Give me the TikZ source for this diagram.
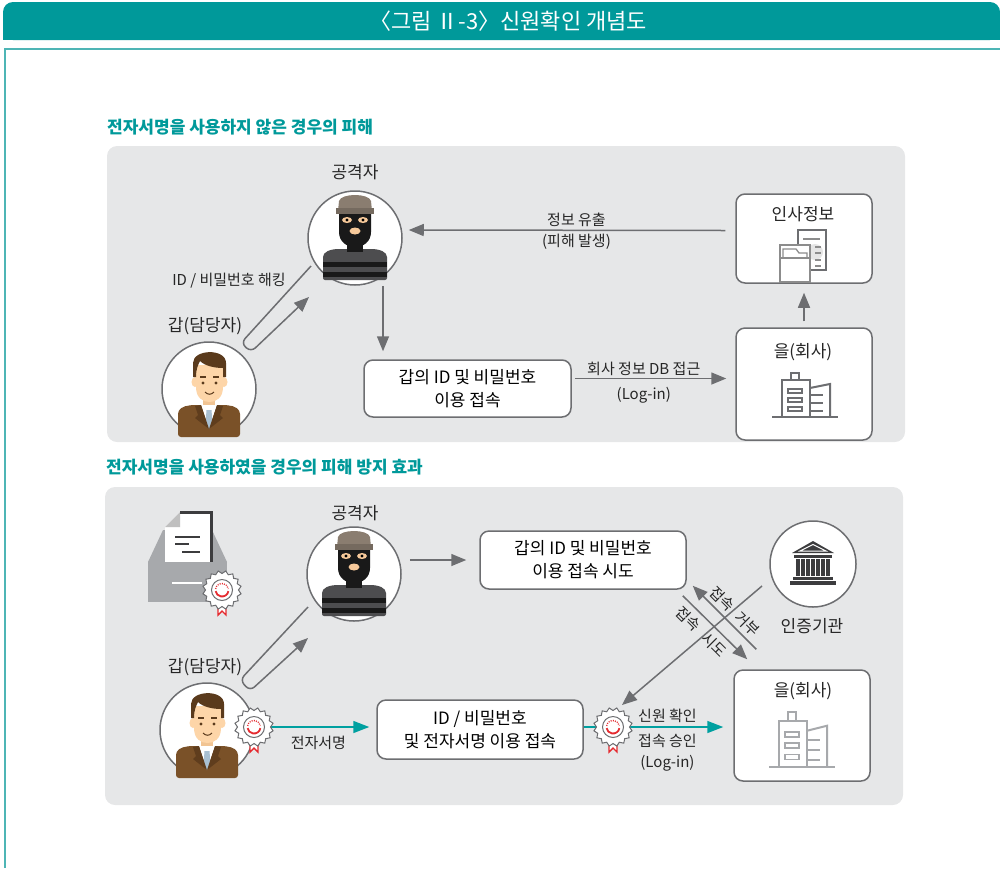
\documentclass[tikz,border=0pt]{standalone}
\usepackage{fontspec}
\setmainfont{Noto Sans CJK KR}
\usetikzlibrary{arrows.meta,calc,shapes.geometric}

\definecolor{teal1}{HTML}{00999A}
\definecolor{teal2}{HTML}{00A0A0}
\definecolor{tealline}{HTML}{4DB5B5}
\definecolor{panel}{HTML}{E6E7E8}
\definecolor{arrgray}{HTML}{6D6E71}
\definecolor{darkgray1}{HTML}{3C3C3E}
\definecolor{hatc}{HTML}{8A7D70}
\definecolor{bodyc}{HTML}{4D4D4F}
\definecolor{peach}{HTML}{F7C99A}
\definecolor{skin}{HTML}{FDD5A8}
\definecolor{hair}{HTML}{5A3A1C}
\definecolor{suit}{HTML}{7A5128}
\definecolor{lapel}{HTML}{5F3D1D}
\definecolor{tie}{HTML}{A9C0D2}
\definecolor{sealred}{HTML}{E52A2F}
\definecolor{tray}{HTML}{A7A9AC}

\tikzset{
  circ/.style={circle, draw=arrgray, line width=1.5pt, fill=white, minimum size=94pt, inner sep=0pt},
  roundbox/.style={rectangle, rounded corners=9pt, draw=arrgray, line width=1.5pt, fill=white, align=center, inner sep=0pt, font=\fontsize{17}{23}\selectfont},
  arr/.style={draw=arrgray, line width=1.5pt, -{Triangle[length=15pt,width=12pt]}},
  tarr/.style={draw=teal2, line width=1.5pt, -{Triangle[length=16pt,width=12pt]}},
  lbl/.style={font=\fontsize{17}{20}\selectfont, text=black!85},
  note/.style={font=\fontsize{15}{21}\selectfont, text=black!85, align=center},
  slant/.style={note, rotate=-45, inner sep=0pt},
  head/.style={font=\fontsize{17}{20}\selectfont\bfseries, text=teal1, anchor=west, inner sep=0pt},
}

% masked thief, drawn round the origin
\newcommand{\thief}{%
  \fill[bodyc, rounded corners=2pt] (-32,42) -- (-32,21) .. controls (-32,14) and (-25,11) .. (-14,11) -- (14,11) .. controls (25,11) and (32,14) .. (32,21) -- (32,42) -- cycle;
  \fill[black!90] (-32,24) rectangle (32,29);
  \fill[black!90] (-32,34) rectangle (32,39);
  \fill[black!90] (-8,2) rectangle (8,14);
  \fill[black!90] (-16,-26) -- (16,-26) -- (16,-6) .. controls (16,4) and (8,9) .. (0,9) .. controls (-8,9) and (-16,4) .. (-16,-6) -- cycle;
  \fill[peach] (-8,-18) ellipse (5 and 3);
  \fill[peach] (8,-18) ellipse (5 and 3);
  \fill[black] (-8,-18) circle (1.6);
  \fill[black] (8,-18) circle (1.6);
  \fill[peach] (0,-7) ellipse (5.5 and 3.5);
  \fill[hatc] (-17,-27) -- (-16,-37) .. controls (-14,-45) and (14,-45) .. (16,-37) -- (17,-27) -- cycle;
  \fill[hatc!85!black] (-19,-30) rectangle (19,-24);
}

% office worker, drawn round the origin
\newcommand{\clerk}{%
  \fill[skin!80!brown] (-6,4) rectangle (6,18);
  \fill[suit, rounded corners=3pt] (-31,48) -- (-31,28) .. controls (-31,20) and (-26,17) .. (-16,16) -- (16,16) .. controls (26,17) and (31,20) .. (31,28) -- (31,48) -- cycle;
  \fill[white] (-8,16) -- (8,16) -- (0,40) -- cycle;
  \fill[tie] (-2.5,21) -- (2.5,21) -- (3.5,35) -- (0,40) -- (-3.5,35) -- cycle;
  \fill[lapel] (-8,16) -- (-14,17) -- (-11,26) -- (-14,29) -- (0,40) -- cycle;
  \fill[lapel] (8,16) -- (14,17) -- (11,26) -- (14,29) -- (0,40) -- cycle;
  \fill[skin] (-14,-7) ellipse (3.5 and 5);
  \fill[skin] (15,-7) ellipse (3.5 and 5);
  \fill[skin] (-13,-24) -- (14,-24) -- (14,-2) .. controls (14,9) and (7,13) .. (0.5,13) .. controls (-6,13) and (-13,9) .. (-13,-2) -- cycle;
  \fill[hair] (-16,-12) -- (-16,-26) .. controls (-16,-40) and (17,-41) .. (17,-26) -- (17,-12) -- (14,-12) -- (14,-21) .. controls (6,-21) and (-4,-23) .. (-9,-28) .. controls (-11,-24) and (-13,-20) .. (-13,-12) -- cycle;
  \draw[hair, line width=1.5pt] (-9,-12) -- (-3,-12) (4,-12) -- (10,-12);
  \fill[hair] (-6,-6) circle (1.6) (7,-6) circle (1.6);
  \draw[hair, line width=1pt] (-4,3) .. controls (-1,6) and (2,6) .. (5,3);
}

% office tower, base line centred at the origin
\newcommand{\tower}[1]{%
  \draw[#1, line width=2.2pt, fill=white] (-23,0) rectangle (5,-37);
  \draw[#1, line width=2.2pt, fill=white] (-14,-37) rectangle (-6,-44);
  \draw[#1, line width=2pt] (5,-29) -- (25,-33) -- (25,0);
  \foreach \wy in {-28,-19,-10} \draw[#1, line width=1.6pt] (-17,\wy) rectangle (-3,\wy+4);
  \foreach \ly in {-22,-14,-6} \draw[#1, line width=2pt] (5,\ly) -- (18,\ly);
  \draw[#1, line width=2pt] (-33,0) -- (33,0);
}

% certificate seal at a named coordinate
\newcommand{\seal}[1]{%
  \begin{scope}[shift={(#1)}]
    \draw[sealred, line width=1.4pt, fill=white] (-4,8) -- (-4,25) -- (0,21) -- (4,25) -- (4,8);
    \node[star, star points=16, star point ratio=0.85, minimum size=33pt, inner sep=0pt, draw=arrgray, line width=1pt, fill=white] (#1-star) at (0,0) {};
    \draw[arrgray, line width=1pt, fill=white] (0,0) circle (10.5);
    \draw[sealred, line width=1.8pt] (10:6.5) arc[start angle=10, end angle=170, radius=6.5];
    \draw[sealred, line width=1.3pt, dash pattern=on 1pt off 1.2pt] (190:6.5) arc[start angle=190, end angle=350, radius=6.5];
  \end{scope}}

\begin{document}
\begin{tikzpicture}[x=1pt, y=-1pt]
  \useasboundingbox (0,0) rectangle (1000,868);

  % title bar and frame
  \fill[teal1, rounded corners=10pt] (3,2) rectangle (1000,40);
  \fill[teal1] (3,25) rectangle (1000,40);
  \node[font=\fontsize{22}{26}\selectfont, text=white] (title) at (508,21) {〈그림 Ⅱ-3〉신원확인 개념도};
  \draw[tealline, line width=1.2pt] (1000,49) -- (5,49) -- (5,868);

  % section headings and grey panels
  \node[head] (head1) at (107,127) {전자서명을 사용하지 않은 경우의 피해};
  \node[head] (head2) at (106,467) {전자서명을 사용하였을 경우의 피해 방지 효과};
  \fill[panel, rounded corners=10pt] (107,146) rectangle (905,442);
  \fill[panel, rounded corners=10pt] (105,487) rectangle (903,805);

  %% without a digital signature
  \node[circ] (atk1) at (355,238) {};
  \begin{scope}[shift={(atk1)}] \thief \end{scope}
  \node[lbl] (atk1lbl) at (355,172) {공격자};

  \node[circ] (pers1) at (209,389) {};
  \begin{scope}[shift={(pers1)}] \clerk \end{scope}
  \node[lbl] (pers1lbl) at (205,326) {갑(담당자)};

  \node[roundbox, minimum width=207pt, minimum height=57pt] (acc1) at (467.5,388.5) {갑의 ID 및 비밀번호\\이용 접속};

  \node[roundbox, minimum width=136pt, minimum height=89pt] (info) at (804,238.5) {};
  \node[lbl] (infolbl) at (803,214) {인사정보};
  % personnel files
  \fill[white] (798,230) rectangle (826,270);
  \fill[black!10] (815,252) circle (8);
  \draw[arrgray, line width=1.5pt] (798,230) rectangle (826,270);
  \draw[black!45, line width=1.3pt] (803,239) -- (820,239);
  \foreach \dy in {247,253,260,266} \draw[black!45, line width=1.3pt] (815,\dy) -- (821,\dy);
  \draw[black!45, line width=1.3pt, fill=white] (780,245) rectangle (810,282);
  \draw[black!45, line width=1.3pt] (783,258) -- (783,249) -- (796,249) -- (799,253) -- (807,253) -- (807,258);
  \draw[black!45, line width=1.3pt] (780,258) -- (810,258);

  \node[roundbox, minimum width=136pt, minimum height=112pt] (co1) at (804,384) {};
  \node[lbl] (co1lbl) at (803,352) {을(회사)};
  \begin{scope}[shift={(805,417)}] \tower{arrgray} \end{scope}

  % arrows
  \draw[arr] ([xshift=-10pt,yshift=8pt]info.west) -- ([xshift=6pt,yshift=8pt]atk1.east)
    node[note, pos=0.47, above=0pt] (leak) {정보 유출}
    node[note, pos=0.47, below=0pt] (leak2) {(피해 발생)};
  \draw[arr, shorten >=8pt] ([xshift=28pt]atk1.south) -- ([xshift=28pt]atk1.south |- acc1.north);
  \draw[arr, shorten >=9pt] ([xshift=3pt,yshift=10pt]acc1.east) -- ([yshift=10pt]acc1.east -| co1.west)
    node[note, pos=0.43, above=-1pt] (dbacc) {회사 정보 DB 접근}
    node[note, pos=0.43, below=5pt] (login1) {(Log-in)};
  \draw[arr, shorten <=6pt, shorten >=9pt] (co1.north) -- (info.south);
  \draw[arr, rounded corners=6pt] ($(atk1)+(-44,28)$) -- ($(pers1)+(32,-46)$) -- ($(pers1)+(42,-37)$) -- ($(atk1)+(-46,59)$);
  \node[note] (hack1) at (229,281) {ID / 비밀번호 해킹};

  %% with a digital signature
  % signed document tray
  \fill[tray] (163,530) -- (212,530) -- (227,562) -- (148,562) -- cycle;
  \fill[white] (165,527) -- (180,512) -- (211,512) -- (211,563) -- (165,563) -- cycle;
  \fill[black!25] (165,527) -- (180,527) -- (180,512) -- cycle;
  \draw[darkgray1, line width=3pt] (180,512) -- (211,512) -- (211,563);
  \draw[darkgray1, line width=2.5pt] (175,537) -- (200,537) (175,544) -- (189,544) (182,552) -- (200,552);
  \fill[tray] (148,562) rectangle (227,602);
  \draw[white, line width=1.5pt] (172,583) -- (202,583);
  \coordinate (bd3) at (222,590);
  \seal{bd3}

  \node[circ] (atk2) at (354,574) {};
  \begin{scope}[shift={(atk2)}] \thief \end{scope}
  \node[lbl] (atk2lbl) at (355,513) {공격자};

  \node[circ] (pers2) at (207,730) {};
  \begin{scope}[shift={(pers2)}] \clerk \end{scope}
  \node[lbl] (pers2lbl) at (205,667) {갑(담당자)};
  \coordinate (bd1) at (254,727);

  \node[roundbox, minimum width=206pt, minimum height=58pt] (acc2) at (583,560) {갑의 ID 및 비밀번호\\이용 접속 시도};
  \node[roundbox, minimum width=206pt, minimum height=59pt] (acc3) at (480,729.5) {ID / 비밀번호\\및 전자서명 이용 접속};

  \node[circ, minimum size=86pt] (ca) at (813,564) {};
  \node[lbl] (calbl) at (812,626) {인증기관};
  % bank building
  \begin{scope}[shift={(ca)}]
    \fill[darkgray1] (-21,-11) -- (0,-23) -- (21,-11) -- cycle;
    \draw[white, line width=1pt] (-13,-13) -- (0,-19.5) -- (13,-13) -- cycle;
    \fill[darkgray1] (-19,-9) rectangle (19,-6);
    \foreach \cx in {-15,-10,...,15} \fill[darkgray1] (\cx-1.6,-5) rectangle (\cx+1.6,12);
    \fill[darkgray1] (-20,13) rectangle (20,16);
    \fill[darkgray1] (-23,17) rectangle (23,21);
  \end{scope}

  \node[roundbox, minimum width=136pt, minimum height=111pt] (co2) at (802,725.5) {};
  \node[lbl] (co2lbl) at (803,691) {을(회사)};
  \begin{scope}[shift={(802,767)}, yscale=1.25] \tower{tray} \end{scope}
  \coordinate (bd2) at (613,727);

  % arrows
  \draw[arr, shorten >=13pt] ([xshift=8pt]atk2.east |- acc2.west) -- (acc2.west);
  \draw[arr, rounded corners=6pt] ($(atk2)+(-46,33)$) -- ($(pers2)+(33,-50)$) -- ($(pers2)+(43,-39)$) -- ($(atk2)+(-46,64)$);
  \draw[tarr, shorten >=7pt] ([xshift=17pt]bd1) -- (bd1 -| acc3.west)
    node[note, pos=0.45, below=5pt] (esig) {전자서명};
  \draw[tarr, shorten >=10pt] (acc3.east |- bd2) -- (bd2 -| co2.west)
    node[note, pos=0.56, above=0pt] (idchk) {신원 확인}
    node[note, pos=0.56, below=3pt] (okay) {접속 승인\\(Log-in)};
  \draw[arr] ($(ca)+(-51,22)$) -- ($(bd2)+(9,-22)$);
  \draw[arr] ($(acc2.south east)+(-4,6)$) -- ($(co2.north west)+(14,-10)$);
  \draw[arr] ($(co2.north west)+(23,-20)$) -- ($(acc2.south east)+(6,-4)$);
  % slanted labels, one word each side of the crossing line
  \node[slant] (deny1) at (722,599) {접속};
  \node[slant] (deny2) at (747,624) {거부};
  \node[slant] (try1) at (688,619) {접속};
  \node[slant] (try2) at (714,645) {시도};
  \seal{bd1}
  \seal{bd2}
\end{tikzpicture}
\end{document}
